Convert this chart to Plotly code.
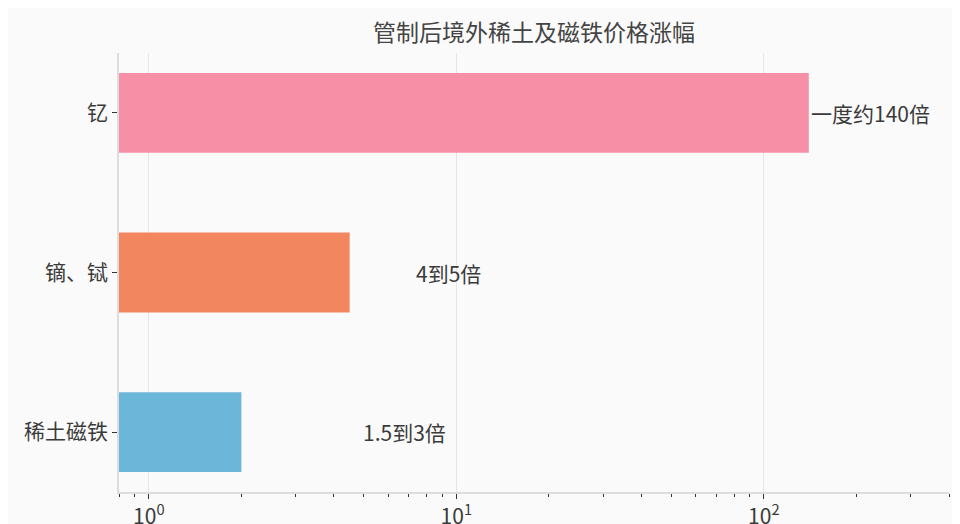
import math
import plotly.graph_objects as go

# data
categories = ["稀土磁铁", "镝、铽", "钇"]
values = [2.0, 4.5, 140]
labels = ["1.5到3倍", "4到5倍", "一度约140倍"]
label_x = [4.9, 7.3, 140]
colors = ["#6cb6d9", "#f2865e", "#f78fa7"]

major_ticks = [1, 10, 100]
major_text = ["10<sup>0</sup>", "10<sup>1</sup>", "10<sup>2</sup>"]
minor_ticks = [0.8, 0.9, 2, 3, 4, 5, 6, 7, 8, 9,
               20, 30, 40, 50, 60, 70, 80, 90, 200, 300, 400]

font_cjk = "Noto Sans CJK SC, Microsoft YaHei, sans-serif"

fig = go.Figure()
fig.add_trace(go.Bar(
    x=values, y=categories, orientation="h",
    width=0.5, marker=dict(color=colors, line=dict(width=0)),
    hoverinfo="x+y", showlegend=False,
))

# text labels beside the bars
for cat, lab, lx in zip(categories, labels, label_x):
    fig.add_annotation(
        x=math.log10(lx), y=cat, text=lab, showarrow=False,
        xanchor="left", yanchor="middle",
        font=dict(size=21, color="#3a3a3a", family=font_cjk),
    )

# page body adds ~8px offset, margins compensate for it
fig.update_layout(
    width=960, height=524,
    margin=dict(l=111, r=19, t=45, b=40),
    paper_bgcolor="#fafafa", plot_bgcolor="#fafafa",
    title=dict(text="管制后境外稀土及磁铁价格涨幅", x=0.548, xanchor="center",
               y=0.952, yanchor="middle",
               font=dict(size=23, color="#444444", family=font_cjk)),
    font=dict(family=font_cjk, color="#3a3a3a"),
    bargap=0.5,
)

fig.update_xaxes(
    type="log", range=[math.log10(0.8), math.log10(400)],
    tickvals=major_ticks, ticktext=major_text,
    ticks="outside", ticklen=5, tickwidth=1.2, tickcolor="#333333",
    tickfont=dict(size=21, color="#3a3a3a"),
    minor=dict(tickvals=minor_ticks, ticks="outside", ticklen=3,
               tickwidth=1.2, tickcolor="#333333", showgrid=False),
    showgrid=True, gridcolor="#e6e6e6", gridwidth=1,
    showline=True, linecolor="#dddddd", linewidth=1.5,
    zeroline=False, automargin=False,
)

fig.update_yaxes(
    categoryorder="array", categoryarray=categories,
    range=[-0.375, 2.375],
    ticks="outside", ticklen=5, tickwidth=1.2, tickcolor="#333333",
    tickfont=dict(size=21, color="#3a3a3a"),
    showgrid=False,
    showline=True, linecolor="#dddddd", linewidth=1.5,
    zeroline=False, automargin=False,
)

fig.write_html("out.html")
